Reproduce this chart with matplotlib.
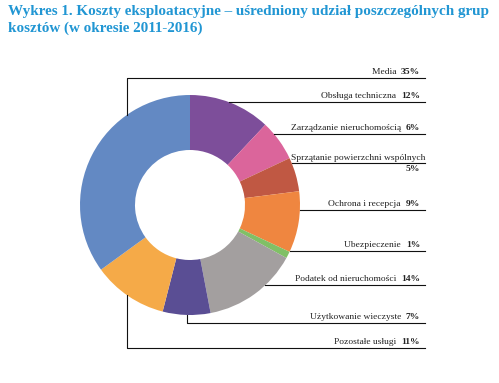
import numpy as np
import matplotlib
matplotlib.use("Agg")
import matplotlib.pyplot as plt

# Data (clockwise from top)
categories = ["Obsługa techniczna", "Zarządzanie nieruchomością", "Sprzątanie powierzchni wspólnych",
              "Ochrona i recepcja", "Ubezpieczenie", "Podatek od nieruchomości",
              "Użytkowanie wieczyste", "Pozostałe usługi", "Media"]
values = [12, 6, 5, 9, 1, 14, 7, 11, 35]
colors = ["#7D4E9A", "#DB659B", "#C05843", "#EF8640", "#80C066", "#A39F9F",
          "#5A4E94", "#F5AA48", "#6389C3"]

title = "Wykres 1. Koszty eksploatacyjne – uśredniony udział poszczególnych grup\nkosztów (w okresie 2011-2016)"

W, H = 499, 383
fig = plt.figure(figsize=(W / 100, H / 100), dpi=100)
ax = fig.add_axes([0, 0, 1, 1])

cx, cy, R = 190, H - 205, 110
ax.pie(values, colors=colors, startangle=90, counterclock=False, center=(cx, cy),
       radius=R, wedgeprops=dict(width=R * 0.5, linewidth=0), frame=True)
ax.set_xlim(0, W)
ax.set_ylim(0, H)
ax.set_aspect("auto")
ax.axis("off")

font = "Liberation Serif"
fs = 6.8
xr = 425
xt = 420

def label(name, pct, ypix, two_lines=False):
    y = H - ypix
    if two_lines:
        ax.text(xr, y + 1.5, name, ha="right", va="bottom", fontsize=fs, family=font, color="#222222")
        ax.text(xt, y - 2, f"{pct}%", ha="right", va="top", fontsize=fs, family=font,
                fontweight="bold", color="#222222")
    else:
        t = ax.text(xt, y + 2, f"{pct}%", ha="right", va="bottom", fontsize=fs, family=font,
                    fontweight="bold", color="#222222")
        ax.annotate(name + "  ", xy=(0, 0), xycoords=t, ha="right", va="bottom",
                    fontsize=fs, family=font, color="#222222")

def edge_x(ypix):
    dy = (H - ypix) - cy
    return cx + np.sqrt(max(R ** 2 - dy ** 2, 0))

def edge_y_top(xpix):
    dx = xpix - cx
    return H - (205 - np.sqrt(R ** 2 - dx ** 2))

def edge_y_bottom(xpix):
    dx = xpix - cx
    return H - (205 + np.sqrt(R ** 2 - dx ** 2))

lw = 0.8
lc = "#111111"
right_rows = {0: 102, 1: 134, 2: 163, 3: 210, 4: 251, 5: 285}
for i, yp in right_rows.items():
    ax.plot([edge_x(yp), xr], [H - yp, H - yp], color=lc, lw=lw)
    label(categories[i], values[i], yp, two_lines=(i == 2))

# Media (top-left)
ax.plot([127, 127, xr], [edge_y_top(127), H - 78, H - 78], color=lc, lw=lw)
label(categories[8], values[8], 78)
# Użytkowanie wieczyste
ax.plot([187, 187, xr], [edge_y_bottom(187), H - 323, H - 323], color=lc, lw=lw)
label(categories[6], values[6], 323)
# Pozostałe usługi
ax.plot([127, 127, xr], [edge_y_bottom(127), H - 348, H - 348], color=lc, lw=lw)
label(categories[7], values[7], 348)

fig.text(8 / W, 1 - 5 / H, title, ha="left", va="top", fontsize=10.9, family="Liberation Serif",
         fontweight="bold", color="#2196D3", linespacing=1.3)

fig.savefig("out.png", dpi=100)
